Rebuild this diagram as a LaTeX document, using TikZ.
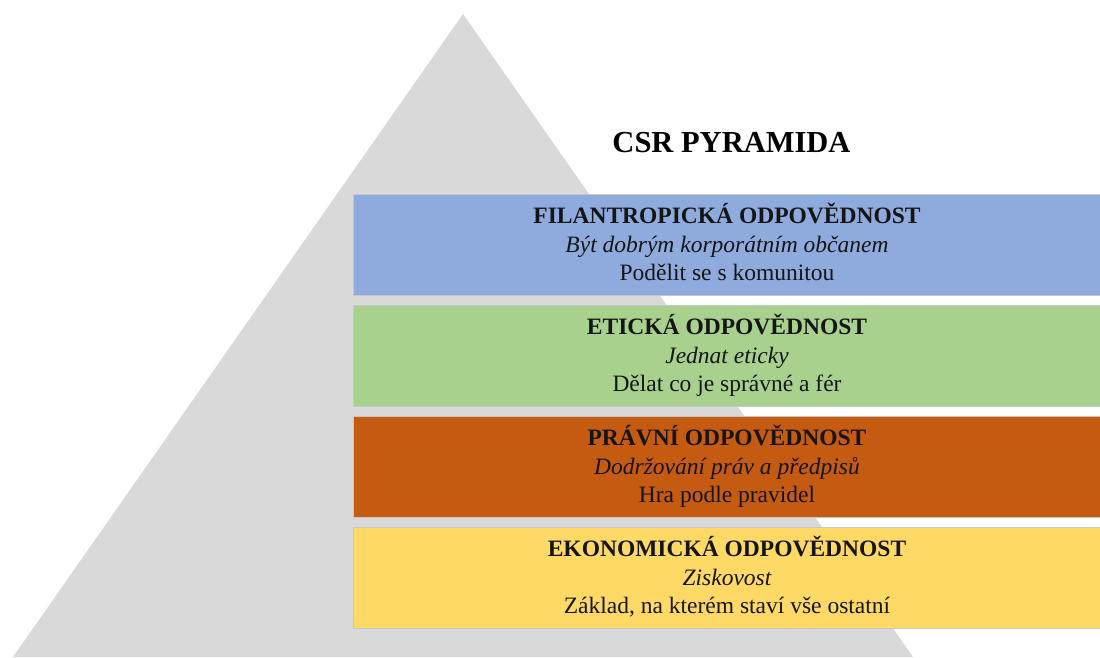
\documentclass[tikz,border=0pt]{standalone}
\usepackage{fontspec}
\setmainfont{Liberation Serif}
\definecolor{pyrgray}{HTML}{D9D9D9}
\definecolor{cblue}{HTML}{8FAADC}
\definecolor{cgreen}{HTML}{A9D18E}
\definecolor{corange}{HTML}{C55A11}
\definecolor{cyellow}{HTML}{FFD966}
\definecolor{txt}{HTML}{151515}
\begin{document}
\begin{tikzpicture}[x=1pt,y=-1pt,
  layerbox/.style={rectangle, anchor=north west, inner sep=0pt, outer sep=0pt,
    minimum width=752pt, minimum height=101pt, draw=black!22, line width=0.8pt},
  headtxt/.style={anchor=base, inner sep=0pt, text=txt, font=\fontsize{23.5}{28}\selectfont\bfseries},
  ittxt/.style={anchor=base, inner sep=0pt, text=txt, font=\fontsize{23.5}{28}\selectfont\itshape},
  plaintxt/.style={anchor=base, inner sep=0pt, text=txt, font=\fontsize{23.5}{28}\selectfont},
  titletxt/.style={anchor=base, inner sep=0pt, text=black, font=\fontsize{30.5}{36}\selectfont\bfseries}]
\clip (0,0) rectangle (1100,657);
\fill[white] (0,0) rectangle (1100,657);
% pyramid
\fill[pyrgray] (463,14) -- (913,657) -- (13,657) -- cycle;
% title
\node[titletxt] (title) at (731.5,152) {CSR PYRAMIDA};
% boxes
\node[layerbox, fill=cblue]   (b1) at (353,194) {};
\node[layerbox, fill=cgreen]  (b2) at (353,305) {};
\node[layerbox, fill=corange] (b3) at (353,416) {};
\node[layerbox, fill=cyellow] (b4) at (353,527) {};
% texts
\node[headtxt]  (h1) at (727,223.5) {FILANTROPICKÁ ODPOVĚDNOST};
\node[ittxt]    (i1) at (727,252)   {Být dobrým korporátním občanem};
\node[plaintxt] (p1) at (727,280.5) {Podělit se s komunitou};
\node[headtxt]  (h2) at (727,334.5) {ETICKÁ ODPOVĚDNOST};
\node[ittxt]    (i2) at (727,363)   {Jednat eticky};
\node[plaintxt] (p2) at (727,391.5) {Dělat co je správné a fér};
\node[headtxt]  (h3) at (727,445.5) {PRÁVNÍ ODPOVĚDNOST};
\node[ittxt]    (i3) at (727,474)   {Dodržování práv a předpisů};
\node[plaintxt] (p3) at (727,502.5) {Hra podle pravidel};
\node[headtxt]  (h4) at (727,556.5) {EKONOMICKÁ ODPOVĚDNOST};
\node[ittxt]    (i4) at (727,585)   {Ziskovost};
\node[plaintxt] (p4) at (727,613.5) {Základ, na kterém staví vše ostatní};
\end{tikzpicture}
\end{document}
